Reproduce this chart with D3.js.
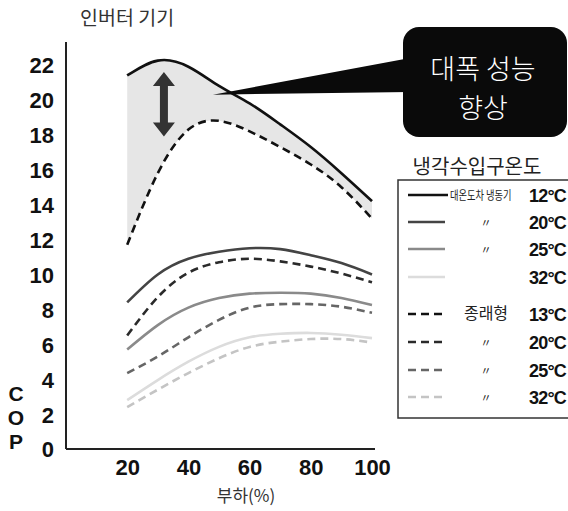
<!DOCTYPE html>
<html>
<head>
<meta charset="utf-8">
<script src="https://cdn.jsdelivr.net/npm/d3@7"></script>
<style>
  body { margin: 0; background: #fff; }
  svg { display: block; }
  .kr { font-family: "Noto Sans CJK KR", "Noto Sans", sans-serif; }
  .num { font-family: "Liberation Sans", Arial, sans-serif; font-weight: bold; }
</style>
</head>
<body>
<svg id="chart" width="568" height="511"></svg>
<script>
// load (%) positions and COP values
const loads = [20, 30, 40, 50, 60, 70, 80, 90, 100];

const inv12 = [21.4, 22.25, 21.9, 20.8, 19.8, 18.6, 17.3, 15.8, 14.2];
const inv20 = [8.4, 10.0, 10.9, 11.3, 11.5, 11.45, 11.1, 10.65, 10.0];
const inv25 = [5.7, 7.1, 8.1, 8.65, 8.9, 8.95, 8.9, 8.65, 8.25];
const inv32 = [2.8, 3.95, 5.0, 5.85, 6.4, 6.6, 6.65, 6.55, 6.35];

const conv13 = [11.7, 15.8, 18.3, 18.8, 18.2, 17.3, 16.3, 15.0, 13.2];
const conv20 = [6.5, 8.7, 10.1, 10.7, 10.9, 10.75, 10.45, 10.05, 9.55];
const conv25 = [4.35, 5.3, 6.4, 7.4, 8.1, 8.3, 8.3, 8.15, 7.8];
const conv32 = [2.4, 3.4, 4.35, 5.2, 5.85, 6.15, 6.3, 6.3, 6.1];

const xTicks = [20, 40, 60, 80, 100];
const yTicks = [0, 2, 4, 6, 8, 10, 12, 14, 16, 18, 20, 22];

const legendNames = ["대온도차 냉동기", "〃", "〃", "", "종래형", "〃", "〃", "〃"];
const legendTemps = ["12°C", "20°C", "25°C", "32°C", "13°C", "20°C", "25°C", "32°C"];

const series = [
  { vals: inv12, color: "#111", dash: null },
  { vals: inv20, color: "#444", dash: null },
  { vals: inv25, color: "#8a8a8a", dash: null },
  { vals: inv32, color: "#dcdcdc", dash: null },
  { vals: conv13, color: "#111", dash: "8,5" },
  { vals: conv20, color: "#2a2a2a", dash: "8,5" },
  { vals: conv25, color: "#666", dash: "8,5" },
  { vals: conv32, color: "#c4c4c4", dash: "8,5" },
];

const svg = d3.select("#chart");

const x = d3.scaleLinear().domain([0, 100]).range([66, 372]);
const y = d3.scaleLinear().domain([0, 22]).range([449, 65]);

// shaded gap between inverter 12C and conventional 13C
const area = d3
  .area()
  .x((d, i) => x(loads[i]))
  .y0((d, i) => y(conv13[i]))
  .y1((d) => y(d))
  .curve(d3.curveNatural);

svg.append("path").datum(inv12).attr("d", area).attr("fill", "#e6e6e6");

const line = d3
  .line()
  .x((d, i) => x(loads[i]))
  .y((d) => y(d))
  .curve(d3.curveNatural);

svg
  .selectAll("path.series")
  .data(series)
  .join("path")
  .attr("class", "series")
  .attr("d", (d) => line(d.vals))
  .attr("fill", "none")
  .attr("stroke", (d) => d.color)
  .attr("stroke-width", 2.6)
  .attr("stroke-dasharray", (d) => d.dash);

// axes
svg
  .append("line")
  .attr("x1", x(0)).attr("x2", x(0))
  .attr("y1", 42).attr("y2", y(0))
  .attr("stroke", "#222").attr("stroke-width", 2);
svg
  .append("line")
  .attr("x1", x(0)).attr("x2", 375)
  .attr("y1", y(0)).attr("y2", y(0))
  .attr("stroke", "#222").attr("stroke-width", 2);

const yAxis = svg
  .append("g")
  .attr("transform", "translate(54,0)")
  .call(d3.axisLeft(y).tickValues(yTicks).tickSize(0).tickPadding(0));
yAxis.select(".domain").remove();
yAxis
  .selectAll("text")
  .attr("class", "num")
  .attr("font-size", 22)
  .attr("fill", "#111")
  .attr("dy", "0.36em");

const xAxis = svg
  .append("g")
  .attr("transform", `translate(0,${y(0) + 7})`)
  .call(d3.axisBottom(x).tickValues(xTicks).tickSize(0).tickPadding(0));
xAxis.select(".domain").remove();
xAxis
  .selectAll("text")
  .attr("class", "num")
  .attr("font-size", 22)
  .attr("fill", "#111")
  .attr("dy", "0.85em");

// COP label, stacked letters
svg
  .selectAll("text.cop")
  .data(["C", "O", "P"])
  .join("text")
  .attr("class", "cop num")
  .attr("x", 16)
  .attr("y", (d, i) => 401 + i * 24)
  .attr("text-anchor", "middle")
  .attr("font-size", 21)
  .attr("fill", "#111")
  .text((d) => d);

svg
  .append("text")
  .attr("class", "kr")
  .attr("x", 80).attr("y", 25)
  .attr("font-size", 19.5)
  .attr("fill", "#333")
  .text("인버터 기기");

svg
  .append("text")
  .attr("class", "kr")
  .attr("x", 246).attr("y", 502)
  .attr("text-anchor", "middle")
  .attr("font-size", 17)
  .attr("fill", "#333")
  .text("부하(%)");

// double arrow
const ax = x(32), aTop = y(21.6), aBot = y(17.9);
svg
  .append("path")
  .attr(
    "d",
    `M${ax},${aTop} L${ax + 11},${aTop + 14} L${ax + 4},${aTop + 14}
     L${ax + 4},${aBot - 14} L${ax + 11},${aBot - 14} L${ax},${aBot}
     L${ax - 11},${aBot - 14} L${ax - 4},${aBot - 14} L${ax - 4},${aTop + 14}
     L${ax - 11},${aTop + 14} Z`
  )
  .attr("fill", "#333");

// callout
const tipX = x(48), tipY = y(20.3);
svg
  .append("path")
  .attr("d", `M${tipX},${tipY} L410,58 L410,92 Z`)
  .attr("fill", "#0a0a0a");
svg
  .append("rect")
  .attr("x", 403).attr("y", 27)
  .attr("width", 164).attr("height", 110)
  .attr("rx", 16)
  .attr("fill", "#0a0a0a");
svg
  .selectAll("text.callout")
  .data(["대폭 성능", "향상"])
  .join("text")
  .attr("class", "callout kr")
  .attr("x", 483)
  .attr("y", (d, i) => 79 + i * 39)
  .attr("text-anchor", "middle")
  .attr("font-size", 27)
  .attr("font-weight", 300)
  .attr("fill", "#fff")
  .text((d) => d);

// legend
svg
  .append("text")
  .attr("class", "kr")
  .attr("x", 477).attr("y", 174)
  .attr("text-anchor", "middle")
  .attr("font-size", 20)
  .attr("fill", "#222")
  .text("냉각수입구온도");

svg
  .append("rect")
  .attr("x", 398).attr("y", 180)
  .attr("width", 180).attr("height", 238)
  .attr("fill", "#fff")
  .attr("stroke", "#333")
  .attr("stroke-width", 1.5);

const rowY = [195, 222, 249, 277, 314, 342, 370, 397];

const rows = svg
  .selectAll("g.leg")
  .data(series)
  .join("g")
  .attr("class", "leg")
  .attr("transform", (d, i) => `translate(0,${rowY[i]})`);

rows
  .append("line")
  .attr("x1", 408).attr("x2", (d, i) => (i === 0 ? 448 : 445))
  .attr("stroke", (d) => d.color)
  .attr("stroke-width", 2.6)
  .attr("stroke-dasharray", (d) => d.dash);

// first label is squeezed horizontally like the original condensed type
rows
  .append("text")
  .attr("class", "kr")
  .attr("transform", (d, i) =>
    i === 0 ? "translate(450,5) scale(0.74,1)" : "translate(486,5)"
  )
  .attr("text-anchor", (d, i) => (i === 0 ? "start" : "middle"))
  .attr("font-size", (d, i) => (i === 0 ? 12.5 : i === 4 ? 16 : 11))
  .attr("fill", "#222")
  .text((d, i) => legendNames[i]);

rows
  .append("text")
  .attr("class", "num")
  .attr("x", 529)
  .attr("y", 7)
  .attr("font-size", 18)
  .attr("letter-spacing", -0.8)
  .attr("fill", "#111")
  .text((d, i) => legendTemps[i]);
</script>
</body>
</html>
